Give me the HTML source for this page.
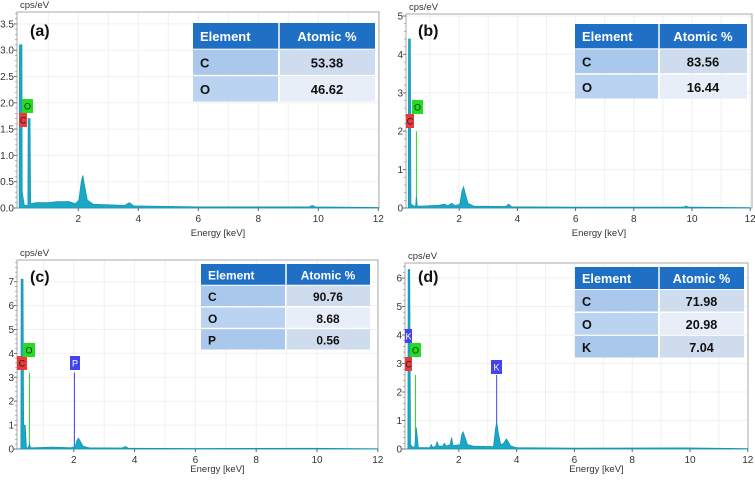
<!DOCTYPE html>
<html><head><meta charset="utf-8"><style>
body{margin:0;background:#fff;}
svg{display:block;font-family:"Liberation Sans",sans-serif;}
</style></head><body>
<svg id="fig" width="755" height="482" viewBox="0 0 755 482" xmlns="http://www.w3.org/2000/svg"></svg>
<script>
// ---- data ----
const aE=[0.03,0.04,0.12,0.13,0.2,0.32,0.33,0.39,0.41,0.6,1.0,1.3,1.7,1.9,2.02,2.1,2.15,2.2,2.3,2.5,3.55,3.7,3.85,6,9.7,9.8,9.9,12];
const aY=[0,3.1,3.1,0.3,0.05,0.05,1.7,1.7,0.08,0.1,0.1,0.12,0.12,0.08,0.15,0.5,0.62,0.45,0.15,0.07,0.05,0.1,0.04,0.02,0.02,0.05,0.02,0.01];
const bE=[0.17,0.25,0.26,0.32,0.34,0.45,0.5,0.53,0.56,0.7,1.3,1.5,1.6,1.75,1.85,2.02,2.1,2.15,2.2,2.3,2.5,3.6,3.7,3.8,6,9.7,9.8,9.9,12];
const bY=[0,0,4.4,4.4,0.1,0.05,0.05,0.3,0.05,0.05,0.07,0.1,0.06,0.12,0.06,0.1,0.45,0.55,0.4,0.12,0.05,0.04,0.1,0.03,0.02,0.02,0.05,0.02,0.01];
const cE=[0.13,0.26,0.27,0.33,0.35,0.4,0.44,0.5,0.54,0.58,0.7,1.3,1.9,2.05,2.1,2.15,2.2,2.3,2.5,3.6,3.7,3.8,6,9.8,12];
const cY=[0,0,7.1,7.1,1.0,1.0,0.05,0.05,0.2,0.05,0.05,0.08,0.05,0.1,0.35,0.45,0.35,0.12,0.05,0.04,0.1,0.03,0.02,0.03,0.01];
const dE=[0.14,0.24,0.25,0.3,0.33,0.42,0.48,0.53,0.6,1.0,1.05,1.1,1.2,1.25,1.3,1.45,1.5,1.55,1.7,1.75,1.8,2.05,2.1,2.15,2.2,2.3,2.5,3.2,3.27,3.31,3.36,3.45,3.55,3.65,3.8,4.0,6,9.8,12];
const dY=[0,0,6.3,6.3,0.15,0.05,0.1,0.75,0.05,0.05,0.15,0.05,0.1,0.25,0.1,0.1,0.2,0.1,0.15,0.4,0.12,0.15,0.5,0.6,0.45,0.15,0.1,0.08,0.7,0.95,0.6,0.15,0.2,0.35,0.1,0.05,0.03,0.04,0.01];
const xTicks=[2,4,6,8,10,12];
const aTicks=["0.0","0.5","1.0","1.5","2.0","2.5","3.0","3.5"];
const bTicks=["0","1","2","3","4","5"];
const cTicks=["0","1","2","3","4","5","6","7"];
const dTicks=["0","1","2","3","4","5","6"];
const aRows=[["C","53.38"],["O","46.62"]];
const bRows=[["C","83.56"],["O","16.44"]];
const cRows=[["C","90.76"],["O","8.68"],["P","0.56"]];
const dRows=[["C","71.98"],["O","20.98"],["K","7.04"]];

const NS="http://www.w3.org/2000/svg";
const fig=document.getElementById('fig');
function mk(tag,attrs,parent,text){const e=document.createElementNS(NS,tag);for(const k in attrs)e.setAttribute(k,attrs[k]);if(text!==undefined)e.textContent=text;parent.appendChild(e);return e;}

const panels=[
 {id:'a',E:aE,Y:aY,ticks:aTicks,step:0.5,rows:aRows,x0:18.3,kx:30,y0:208,ky:52.6,L:17,R:379,T:12,B:208,tab:[193,23,375,103,279],lab:[30,36],ey:236,
  marks:[{s:'C',e:0.1,h:1.55,c:'#e83a3a',box:[19,113,8,14]},{s:'O',e:0.36,h:1.7,c:'#22dd22',box:[22,99,11,14]}]},
 {id:'b',E:bE,Y:bY,ticks:bTicks,step:1,rows:bRows,x0:401,kx:29.1,y0:208,ky:38.4,L:406,R:752,T:14,B:208,tab:[575,24,747,100,659],lab:[418,36],ey:236,
  marks:[{s:'C',e:0.3,h:2.2,c:'#e83a3a',box:[406,114,8,14]},{s:'O',e:0.53,h:2.0,c:'#22dd22',box:[412,100,11,14]}]},
 {id:'c',E:cE,Y:cY,ticks:cTicks,step:1,rows:cRows,x0:13,kx:30.4,y0:449,ky:23.9,L:17,R:378,T:260,B:449,tab:[201,264,370,351,286],lab:[30,282],ey:472,
  marks:[{s:'C',e:0.3,h:3.5,c:'#e83a3a',box:[17,356,10,14]},{s:'O',e:0.54,h:3.2,c:'#22dd22',box:[23,343,12,14]},{s:'P',e:2.02,h:3.2,c:'#4444ee',box:[70,356,10,14]}]},
 {id:'d',E:dE,Y:dY,ticks:dTicks,step:1,rows:dRows,x0:401,kx:28.9,y0:449,ky:28.5,L:405,R:748,T:263,B:449,tab:[575,267,744,359,659],lab:[418,282],ey:472,
  marks:[{s:'K',e:0.27,h:3.9,c:'#4444ee',box:[405,329,7,14]},{s:'O',e:0.5,h:2.6,c:'#22dd22',box:[410,343,11,14]},{s:'C',e:0.28,h:2.9,c:'#e83a3a',box:[405,357,7,14]},{s:'K',e:3.31,h:2.6,c:'#4444ee',box:[491,360,11,14]}]}
];

panels.forEach(p=>{
 const X=e=>p.x0+e*p.kx, Yf=v=>p.y0-v*p.ky;
 const g=mk('g',{},fig);
 
 
 for(let e=1;e<=12;e++){const x=X(e);if(x>p.L&&x<p.R)mk('line',{x1:x,x2:x,y1:p.T,y2:p.B,stroke:'#f0f0f0','stroke-width':1},g);}
 p.ticks.forEach((t,i)=>{const y=Yf(i*p.step);if(y>p.T)mk('line',{x1:p.L,x2:p.R,y1:y,y2:y,stroke:'#f0f0f0','stroke-width':1},g);});
 const frame=mk('rect',{x:p.L,y:p.T,width:p.R-p.L,height:p.B-p.T,fill:'none',stroke:'#aaaaaa','stroke-width':1},g);
 
 
 p.marks.forEach(m=>{mk('line',{x1:X(m.e),x2:X(m.e),y1:Yf(m.h),y2:p.B,stroke:m.c,'stroke-width':1},g);});
 let d='M'+X(p.E[0])+','+p.y0;
 p.E.forEach((e,i)=>{d+=' L'+X(e).toFixed(1)+','+Yf(p.Y[i]).toFixed(1);});
 d+=' L'+X(p.E[p.E.length-1])+','+p.y0+' Z';
 const sp=mk('path',{d:d,fill:'#1ba8c6',stroke:'#1296b4','stroke-width':0.8},g);
 
 
 p.ticks.forEach((t,i)=>{const y=Yf(i*p.step);
   mk('line',{x1:p.L-3,x2:p.L,y1:y,y2:y,stroke:'#666'},g);
   const tx=mk('text',{x:p.L-3,y:y+3.5,'font-size':10,'text-anchor':'end',fill:'#333'},g,t);
   
   });
 for(let v=0;v<p.ticks.length*p.step;v+=p.step/5){const y=Yf(v);if(y>p.T)mk('line',{x1:p.L-2,x2:p.L,y1:y,y2:y,stroke:'#888','stroke-width':0.6},g);}
 xTicks.forEach(t=>{const x=X(t);
   mk('line',{x1:x,x2:x,y1:p.B,y2:p.B+3,stroke:'#666'},g);
   const tx=mk('text',{x:x,y:p.B+14,'font-size':10,'text-anchor':'middle',fill:'#333'},g,String(t));
   
   });
 const yt=mk('text',{x:p.L+3,y:p.T-4,'font-size':9.5,fill:'#333'},g,'cps/eV');
 
 
 const xt=mk('text',{x:(p.L+p.R)/2+20,y:p.ey,'font-size':9.5,'text-anchor':'middle',fill:'#333'},g,'Energy [keV]');
 
 
 const pl=mk('text',{x:p.lab[0],y:p.lab[1],'font-size':16,'font-weight':'bold',fill:'#111'},g,'('+p.id+')');
 
 
 p.marks.forEach(m=>{const b=m.box;
   const r=mk('rect',{x:b[0],y:b[1],width:b[2],height:b[3],fill:m.c},g);
   
   
   mk('text',{x:b[0]+b[2]/2,y:b[1]+10.5,'font-size':9,'text-anchor':'middle',fill:m.c==='#4444ee'?'#fff':'#222'},g,m.s);});
 const [tx0,ty0,tx1,ty1,cs]=p.tab;
 const n=p.rows.length+1, rh=(ty1-ty0)/n;
 const tg=mk('g',{},g);
 
 
 mk('rect',{x:tx0,y:ty0,width:tx1-tx0,height:rh-1,fill:'#1f6fc5'},tg);
 mk('line',{x1:cs,x2:cs,y1:ty0,y2:ty0+rh-1,stroke:'#fff','stroke-width':1.5},tg);
 const fs=Math.min(13,rh*0.55);
 mk('text',{x:tx0+7,y:ty0+rh/2+4.5,'font-size':fs,'font-weight':'bold',fill:'#fff'},tg,'Element');
 mk('text',{x:(cs+tx1)/2,y:ty0+rh/2+4.5,'font-size':fs,'font-weight':'bold',fill:'#fff','text-anchor':'middle'},tg,'Atomic %');
 p.rows.forEach((r,i)=>{const y=ty0+rh*(i+1);
   const alt=i%2===0;
   mk('rect',{x:tx0,y:y,width:cs-tx0-1,height:rh-1.5,fill:alt?'#a9c8ec':'#b9d3f0'},tg);
   mk('rect',{x:cs+1,y:y,width:tx1-cs-1,height:rh-1.5,fill:alt?'#cfdcee':'#e7eef8'},tg);
   mk('text',{x:tx0+7,y:y+rh/2+4.5,'font-size':fs,'font-weight':'bold',fill:'#111'},tg,r[0]);
   mk('text',{x:(cs+tx1)/2,y:y+rh/2+4.5,'font-size':fs,'font-weight':'bold',fill:'#111','text-anchor':'middle'},tg,r[1]);});
});
</script>
</body></html>
